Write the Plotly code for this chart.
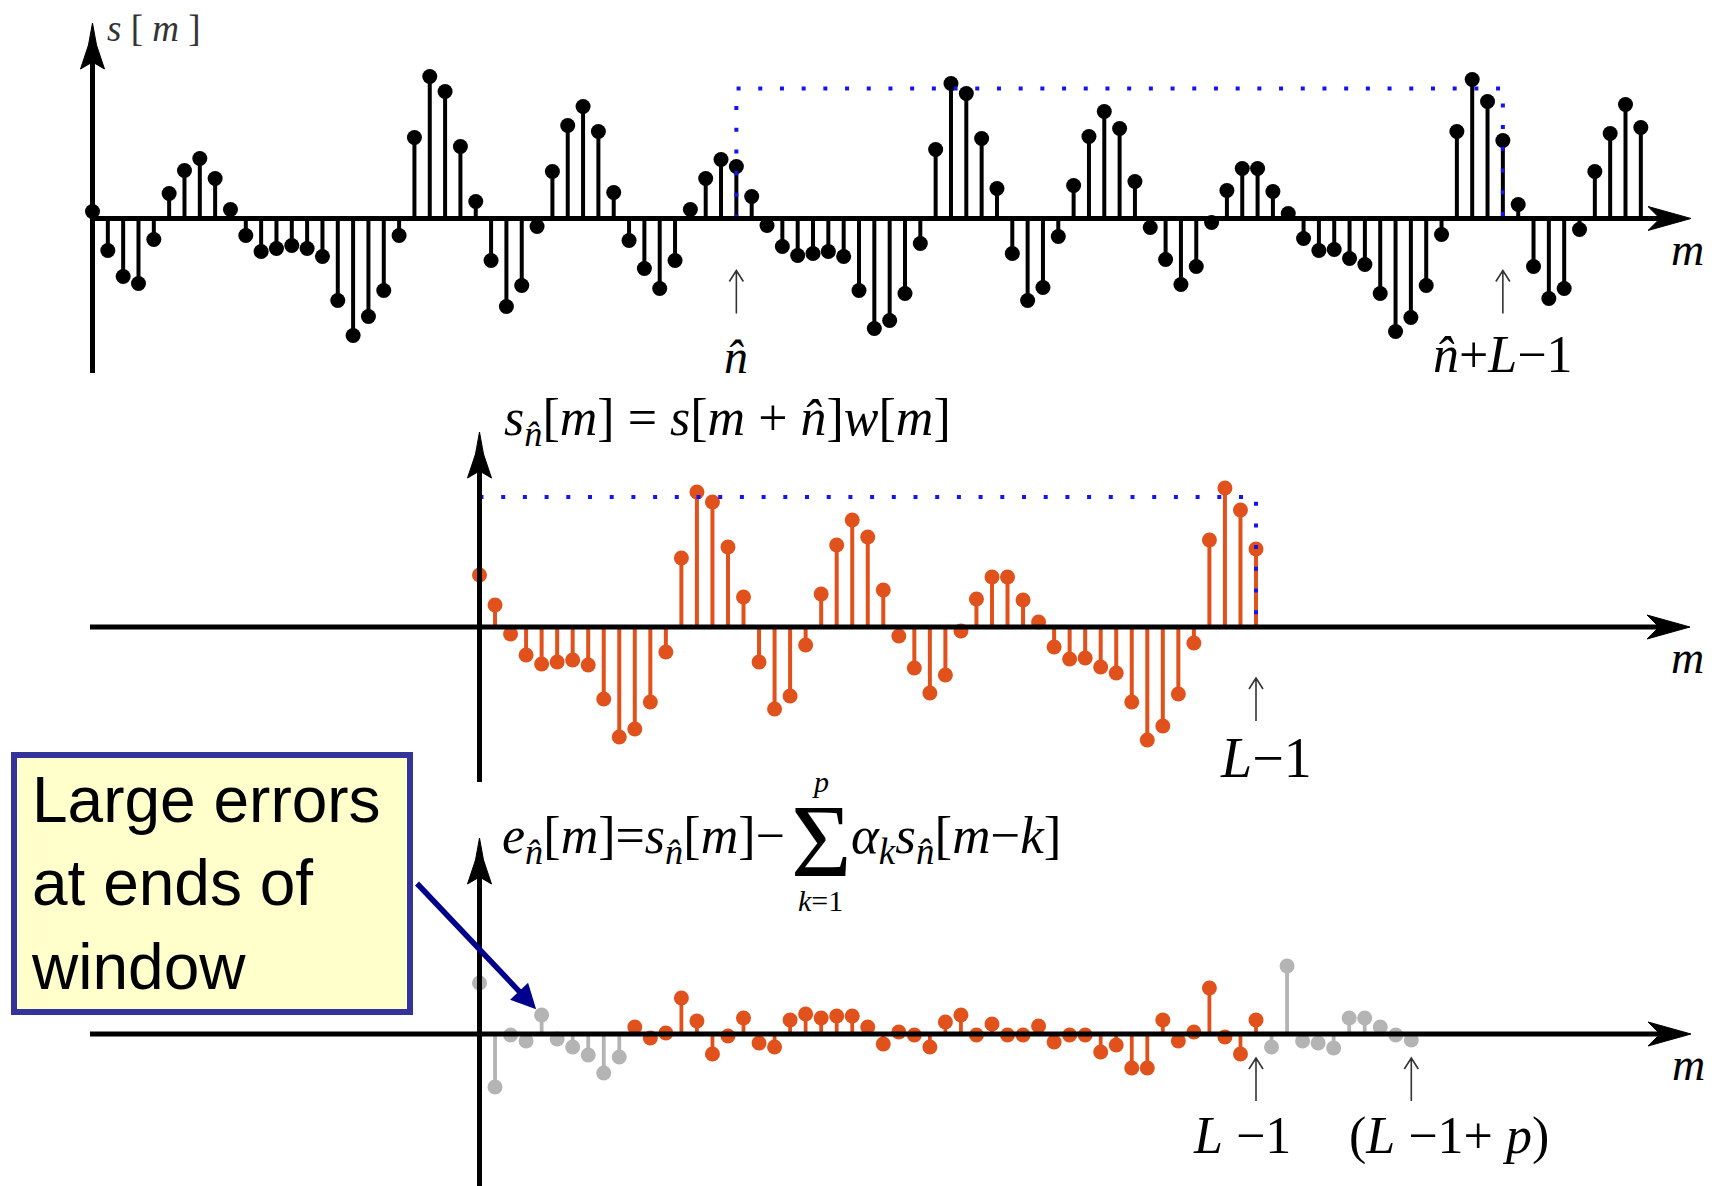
import plotly.graph_objects as go

W, H = 1718, 1186

# speech samples s[m], m = 0..101 (amplitude in plot units)
s_values = [7, -32, -58, -65, -21, 25, 48, 60, 40, 9,
            -17, -33, -30, -27, -30, -38, -82, -117, -98, -72,
            -17, 81, 142, 127, 72, 17, -42, -88, -67, -8,
            47, 93, 112, 87, 26, -22, -50, -70, -42, 9,
            40, 59, 52, 22, -7, -28, -37, -35, -33, -38,
            -72, -110, -102, -75, -25, 69, 135, 125, 80, 30,
            -35, -82, -69, -18, 33, 82, 107, 90, 37, -9,
            -41, -66, -48, -4, 28, 50, 50, 27, 5, -20,
            -32, -31, -40, -46, -75, -113, -99, -67, -16, 87,
            139, 117, 78, 14, -48, -80, -70, -11, 47, 85,
            114, 91]

n_hat = 42          # window start
L = 51              # window length
p = 10              # predictor order
window_level = 130  # height of the rectangular window outline

# prediction error e[m], m = 0..L-1+p
e_values = [51, -53, -1, -7, 19, -5, -13, -21, -39, -23,
            7, -4, 1, 36, 13, -20, -2, 16, -9, -13,
            14, 20, 16, 18, 18, 7, -10, 2, -1, -13,
            12, 19, -1, 10, -1, -1, 8, -8, -1, -1,
            -18, -11, -34, -34, 14, -7, 2, 46, -3, -20,
            14, -13, 68, -7, -9, -14, 16, 16, 7, -1,
            -6]
callout_sample = 4

m_top = list(range(len(s_values)))
segment = s_values[n_hat:n_hat + L]          # rectangular window applied
m_seg = list(range(L))
m_err = list(range(len(e_values)))

BLACK = "#000000"
ORANGE = "#E1511B"
GRAY = "#B4B4B4"
BLUE = "#1414F0"
NAVY = "#00008C"
SERIF = "Liberation Serif"
SANS = "Liberation Sans"

# panel geometry in page pixels: stem origin, stem spacing, baseline, vertical extent
panels = {
    "top": dict(x0=92.5, dx=15.33, base=218.5, y_top=0, y_bot=395, xa="x", ya="y"),
    "mid": dict(x0=479.5, dx=15.53, base=627.0, y_top=395, y_bot=790, xa="x2", ya="y2"),
    "bot": dict(x0=479.5, dx=15.53, base=1034.0, y_top=790, y_bot=H, xa="x3", ya="y3"),
}

fig = go.Figure()


def add_stems(P, xs, vs, color, width=4, size=15):
    lx, ly = [], []
    for x, v in zip(xs, vs):
        lx += [x, x, None]
        ly += [0, v, None]
    fig.add_trace(go.Scatter(x=lx, y=ly, mode="lines", line=dict(color=color, width=width),
                             xaxis=P["xa"], yaxis=P["ya"], hoverinfo="skip", cliponaxis=False))
    fig.add_trace(go.Scatter(x=xs, y=vs, mode="markers", marker=dict(color=color, size=size, line=dict(width=0)),
                             xaxis=P["xa"], yaxis=P["ya"], cliponaxis=False))


# top: s[m]
add_stems(panels["top"], m_top, s_values, BLACK)
fig.add_trace(go.Scatter(x=[n_hat, n_hat, n_hat + L - 1, n_hat + L - 1],
                         y=[0, window_level, window_level, 0], mode="lines",
                         line=dict(color=BLUE, width=4, dash="4px,17.7px"),
                         xaxis="x", yaxis="y", hoverinfo="skip", cliponaxis=False))

# middle: windowed segment
add_stems(panels["mid"], m_seg, segment, ORANGE)
fig.add_trace(go.Scatter(x=[0, L - 1, L - 1], y=[window_level, window_level, 0], mode="lines",
                         line=dict(color=BLUE, width=4, dash="4px,17.7px"),
                         xaxis="x2", yaxis="y2", hoverinfo="skip", cliponaxis=False))

# bottom: prediction error, gray outside the window interior
edge_m = [m for m in m_err if m < p or m > L - 1]
inner_m = [m for m in m_err if p <= m <= L - 1]
add_stems(panels["bot"], edge_m, [e_values[m] for m in edge_m], GRAY, width=3.8, size=15)
add_stems(panels["bot"], inner_m, [e_values[m] for m in inner_m], ORANGE, width=3.8, size=15)

# axes positioned so that one y unit is one pixel
layout_axes = {}
for i, key in enumerate(["top", "mid", "bot"]):
    P = panels[key]
    sfx = "" if i == 0 else str(i + 1)
    layout_axes["xaxis" + sfx] = dict(domain=[0, 1], range=[-P["x0"] / P["dx"], (W - P["x0"]) / P["dx"]],
                                      visible=False, anchor="y" + sfx)
    layout_axes["yaxis" + sfx] = dict(domain=[1 - P["y_bot"] / H, 1 - P["y_top"] / H],
                                      range=[P["base"] - P["y_bot"], P["base"] - P["y_top"]],
                                      visible=False, anchor="x" + sfx)

shapes = []


def X(px):
    return px / W


def Y(py):
    return 1 - py / H


def line(x0, y0, x1, y1, w=5, color=BLACK):
    shapes.append(dict(type="line", xref="paper", yref="paper", x0=X(x0), y0=Y(y0), x1=X(x1), y1=Y(y1),
                       line=dict(color=color, width=w), layer="above"))


def up_head(x, yt):
    pts = [(x, yt), (x + 4, yt + 22), (x + 12, yt + 46), (x, yt + 39), (x - 12, yt + 46), (x - 4, yt + 22)]
    path = "M" + " L".join(f"{X(a):.5f},{Y(b):.5f}" for a, b in pts) + " Z"
    shapes.append(dict(type="path", xref="paper", yref="paper", path=path,
                       fillcolor=BLACK, line=dict(color=BLACK, width=1), layer="above"))


def right_head(xt, y):
    pts = [(xt, y), (xt - 43, y - 12), (xt - 31, y), (xt - 43, y + 12)]
    path = "M" + " L".join(f"{X(a):.5f},{Y(b):.5f}" for a, b in pts) + " Z"
    shapes.append(dict(type="path", xref="paper", yref="paper", path=path,
                       fillcolor=BLACK, line=dict(color=BLACK, width=1), layer="above"))


# coordinate axes with arrowheads
line(92.5, 55, 92.5, 373)
line(92.5, 218.5, 1665, 218.5)
up_head(92.5, 23)
right_head(1691, 218.5)

line(479.5, 460, 479.5, 782)
line(90, 627, 1665, 627)
up_head(479.5, 432)
right_head(1690, 627)

line(479.5, 865, 479.5, 1186)
line(90, 1034, 1665, 1034)
up_head(479.5, 838)
right_head(1691, 1034)


def up_arrow(P, m, tip_off, length=43, half=7, head=11):
    dxu = half / P["dx"]
    yt, yb = -tip_off, -(tip_off + length)
    path = (f"M{m},{yb} L{m},{yt} M{m - dxu:.4f},{yt - head} L{m},{yt} L{m + dxu:.4f},{yt - head}")
    shapes.append(dict(type="path", xref=P["xa"], yref=P["ya"], path=path,
                       line=dict(color="#333333", width=1.6), layer="above"))


up_arrow(panels["top"], n_hat, 52)
up_arrow(panels["top"], n_hat + L - 1, 52)
up_arrow(panels["mid"], L - 1, 51)
up_arrow(panels["bot"], L - 1, 24)
up_arrow(panels["bot"], L - 1 + p, 24)


def label(text, x, baseline, size, xref="paper", xanchor="center", family=SERIF, color=BLACK, xshift=0):
    fig.add_annotation(text=text, x=X(x) if xref == "paper" else x, xref=xref,
                       y=Y(baseline - 0.891 * size), yref="paper", yanchor="top",
                       xanchor=xanchor, xshift=xshift, showarrow=False,
                       font=dict(family=family, size=size, color=color), borderpad=0, borderwidth=0)


NH = "n\u0302"

# top panel text
label("<i>s</i> [ <i>m</i> ]", 107, 41, 37, xanchor="left", color="#333333")
label(f"<i>{NH}</i>", n_hat, 373, 48, xref="x")
label(f"<i>{NH}</i>+<i>L</i>\u22121", n_hat + L - 1, 372, 52, xref="x")
label("<i>m</i>", 1687, 265, 46)

# middle panel text
label(f"<i>s</i><sub><i>{NH}</i></sub>[<i>m</i>] = <i>s</i>[<i>m</i> + <i>{NH}</i>]<i>w</i>[<i>m</i>]",
      504, 435, 52, xanchor="left")
label("<i>L</i>\u22121", L - 1, 777, 56, xref="x2", xshift=10)
label("<i>m</i>", 1687, 673, 46)

# bottom panel text
label(f"<i>e</i><sub><i>{NH}</i></sub>[<i>m</i>]=<i>s</i><sub><i>{NH}</i></sub>[<i>m</i>]\u2212",
      502, 853, 52, xanchor="left")
label("\u03a3", 821, 876, 104)
label("<i>p</i>", 820, 792, 30)
label("<i>k</i>=1", 820, 911, 30)
label(f"<i>\u03b1</i><sub><i>k</i></sub><i>s</i><sub><i>{NH}</i></sub>[<i>m</i>\u2212<i>k</i>]",
      851, 853, 53, xanchor="left")
label("<i>L</i> \u22121", L - 1, 1153, 52, xref="x3", xshift=-14)
label("(<i>L</i> \u22121+ <i>p</i>)", L - 1 + p, 1153, 52, xref="x3", xshift=38)
label("<i>m</i>", 1688, 1080, 46)

# callout box and its pointer
fig.add_annotation(text="Large errors<br>at ends of<br>window", xref="paper", yref="paper",
                   x=X(11), y=Y(752), xanchor="left", yanchor="top", width=362, height=223,
                   align="left", valign="middle", bgcolor="#FFFFCC", bordercolor="#333399",
                   borderwidth=6, borderpad=14, showarrow=False,
                   font=dict(family=SANS, size=64, color=BLACK))
fig.add_annotation(x=callout_sample, y=e_values[callout_sample], xref="x3", yref="y3",
                   ax=-126, ay=-133, text="", showarrow=True, arrowhead=2, arrowsize=0.9,
                   arrowwidth=5.5, arrowcolor=NAVY, standoff=8)

fig.update_layout(width=W, height=H, margin=dict(l=0, r=0, t=0, b=0), showlegend=False,
                  paper_bgcolor="white", plot_bgcolor="white", shapes=shapes, **layout_axes)

fig.write_html("out.html")
